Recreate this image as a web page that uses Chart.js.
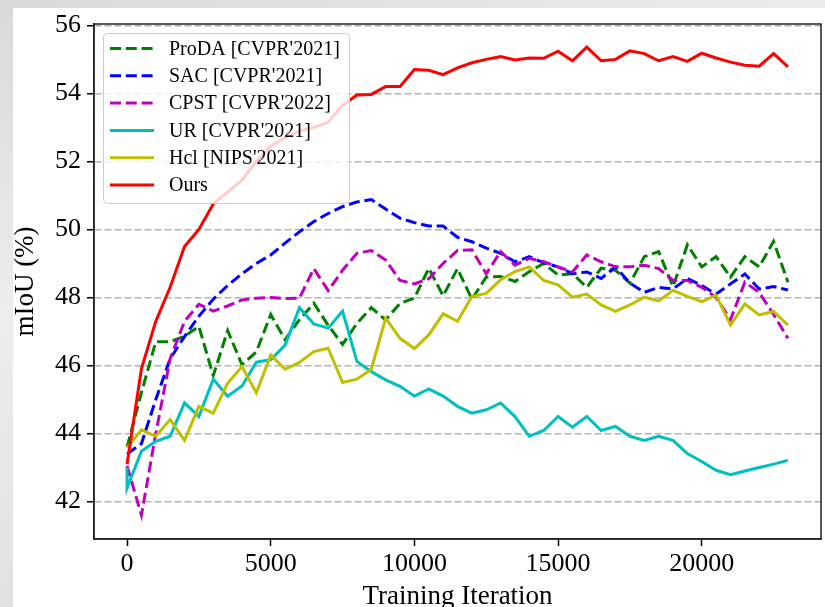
<!DOCTYPE html>
<html>
<head>
<meta charset="utf-8">
<script src="https://cdn.jsdelivr.net/npm/chart.js@4/dist/chart.umd.min.js"></script>
<style>
  html, body { margin: 0; padding: 0; }
  body {
    width: 825px; height: 607px; overflow: hidden; position: relative;
    background: linear-gradient(160deg, #d9d9d9 0%, #ededed 35%, #e0e0e0 70%, #eaeaea 100%);
  }
  #paper { position: absolute; left: 13px; top: 8px; right: 0; bottom: 0; background: #fff; }
  #chart { position: absolute; left: 0; top: 0; }
</style>
</head>
<body>
<div id="paper"></div>
<canvas id="chart" width="825" height="607"></canvas>
<script>
// --- DATA ---
const iters = [
  0, 500, 1000, 1500, 2000, 2500, 3000, 3500, 4000, 4500,
  5000, 5500, 6000, 6500, 7000, 7500, 8000, 8500, 9000, 9500,
  10000, 10500, 11000, 11500, 12000, 12500, 13000, 13500, 14000, 14500,
  15000, 15500, 16000, 16500, 17000, 17500, 18000, 18500, 19000, 19500,
  20000, 20500, 21000, 21500, 22000, 22500, 23000
];

const proda = [
  43.6, 45.2, 46.7, 46.7, 46.86, 47.15, 45.7, 47.03, 46.02, 46.4,
  47.5, 46.76, 47.35, 47.83, 47.18, 46.62, 47.24, 47.7, 47.34, 47.83,
  47.98, 48.86, 48.05, 48.85, 47.95, 48.6, 48.62, 48.47, 48.76, 49.0,
  48.66, 48.7, 48.3, 48.86, 48.8, 48.42, 49.2, 49.35, 48.32, 49.55,
  48.9, 49.2, 48.6, 49.2, 48.9, 49.65, 48.45
];

const sac = [
  43.4, 43.7, 45.0, 46.2, 46.85, 47.45, 47.95, 48.35, 48.7, 49.0,
  49.25, 49.6, 49.93, 50.23, 50.47, 50.67, 50.81, 50.88, 50.6, 50.33,
  50.2, 50.1, 50.1, 49.77, 49.64, 49.45, 49.3, 49.05, 49.2, 49.02,
  48.9, 48.7, 48.75, 48.56, 48.9, 48.42, 48.15, 48.3, 48.25, 48.56,
  48.35, 48.1, 48.4, 48.69, 48.25, 48.32, 48.22
];

const cpst = [
  43.05, 41.6, 44.0, 46.2, 47.3, 47.8, 47.6, 47.75, 47.93, 47.98,
  48.0, 47.97, 47.98, 48.85, 48.2, 48.8, 49.3, 49.38, 49.1, 48.5,
  48.4, 48.55, 49.0, 49.38, 49.4, 48.7, 49.35, 48.95, 49.15, 49.05,
  48.9, 48.75, 49.25, 49.05, 48.9, 48.9, 48.95, 48.85, 48.5, 48.5,
  48.3, 48.0, 47.35, 48.45, 48.15, 47.5, 46.8
];

// UR has an extra reading at iteration 0 before dropping
const urFirst = 43.0;
const ur = [
  42.4, 43.48, 43.77, 43.92, 44.9, 44.5, 45.6, 45.1, 45.4, 46.1,
  46.17, 46.6, 47.7, 47.22, 47.1, 47.6, 46.12, 45.82, 45.58, 45.39,
  45.1, 45.31, 45.1, 44.8, 44.6, 44.7, 44.9, 44.5, 43.92, 44.09,
  44.5, 44.19, 44.5, 44.09, 44.21, 43.92, 43.8, 43.92, 43.8, 43.41,
  43.18, 42.92, 42.79, 42.9, 43.0, 43.1, 43.21
];

const hcl = [
  43.58, 44.11, 43.92, 44.41, 43.8, 44.8, 44.6, 45.48, 45.97, 45.2,
  46.31, 45.89, 46.09, 46.41, 46.51, 45.5, 45.6, 45.89, 47.39, 46.8,
  46.5, 46.9, 47.52, 47.3, 48.03, 48.12, 48.52, 48.76, 48.9, 48.5,
  48.37, 48.01, 48.1, 47.78, 47.59, 47.78, 48.01, 47.9, 48.21, 48.03,
  47.88, 48.07, 47.19, 47.81, 47.49, 47.59, 47.19
];

const ours = [
  43.1, 45.9, 47.3, 48.3, 49.5, 50.0, 50.75, 51.1, 51.45, 52.0,
  52.45, 52.7, 52.9, 53.0, 53.15, 53.65, 53.95, 53.97, 54.2, 54.2,
  54.7, 54.68, 54.55, 54.75, 54.9, 55.0, 55.08, 54.98, 55.04, 55.03,
  55.24, 54.96, 55.36, 54.96, 55.0, 55.25, 55.17, 54.96, 55.08, 54.94,
  55.18, 55.04, 54.92, 54.83, 54.8, 55.17, 54.78
];

const xTicks = [0, 5000, 10000, 15000, 20000];
const yTicks = [42, 44, 46, 48, 50, 52, 54, 56];

// --- HELPERS ---
const pts = vals => iters.map((x, i) => ({ x: x, y: vals[i] }));
const dash = [11, 4.8];
const serif = "'Liberation Serif', 'Times New Roman', serif";

function series(label, vals, color, dashed, order) {
  return {
    label: label,
    data: vals,
    borderColor: color,
    backgroundColor: color,
    borderWidth: 3,
    borderDash: dashed ? dash : [],
    pointRadius: 0,
    tension: 0,
    fill: false,
    order: order
  };
}

// legend box inside the plot + full frame like matplotlib spines
const insideLegend = {
  id: 'insideLegend',
  afterDatasetsDraw(chart) {
    const { ctx, chartArea: a } = chart;
    ctx.save();
    const bx = 103.5, by = 33.5, bw = 246, bh = 170, r = 4;
    ctx.beginPath();
    ctx.moveTo(bx + r, by);
    ctx.arcTo(bx + bw, by, bx + bw, by + bh, r);
    ctx.arcTo(bx + bw, by + bh, bx, by + bh, r);
    ctx.arcTo(bx, by + bh, bx, by, r);
    ctx.arcTo(bx, by, bx + bw, by, r);
    ctx.closePath();
    ctx.fillStyle = 'rgba(255,255,255,0.8)';
    ctx.fill();
    ctx.strokeStyle = '#cccccc';
    ctx.lineWidth = 1;
    ctx.stroke();

    ctx.font = '20px ' + serif;
    ctx.textBaseline = 'middle';
    ctx.fillStyle = '#000';
    chart.data.datasets.forEach((ds, i) => {
      const y = 48.5 + i * 27.3;
      ctx.setLineDash(ds.borderDash);
      ctx.strokeStyle = ds.borderColor;
      ctx.lineWidth = 3;
      ctx.beginPath();
      ctx.moveTo(110, y);
      ctx.lineTo(154, y);
      ctx.stroke();
      ctx.setLineDash([]);
      ctx.fillText(ds.label, 169, y + 1);
    });

    ctx.strokeStyle = '#222';
    ctx.lineWidth = 1.5;
    ctx.strokeRect(a.left, a.top, a.right - a.left, a.bottom - a.top);
    ctx.restore();
  }
};

// --- CHART ---
Chart.defaults.font.family = serif;
Chart.defaults.color = '#000';

const urData = [{ x: 0, y: urFirst }].concat(pts(ur));

new Chart(document.getElementById('chart'), {
  type: 'line',
  data: {
    datasets: [
      series('ProDA [CVPR\'2021]', pts(proda), '#008000', true, 6),
      series('SAC [CVPR\'2021]', pts(sac), '#0000ff', true, 5),
      series('CPST [CVPR\'2022]', pts(cpst), '#bf00bf', true, 4),
      series('UR [CVPR\'2021]', urData, '#00bfbf', false, 3),
      series('Hcl [NIPS\'2021]', pts(hcl), '#bfbf00', false, 2),
      series('Ours', pts(ours), '#ff0000', false, 1)
    ]
  },
  options: {
    responsive: false,
    animation: false,
    devicePixelRatio: 1,
    layout: { padding: { top: 24, right: 4, left: 0, bottom: 0 } },
    plugins: { legend: { display: false }, tooltip: { enabled: false } },
    scales: {
      x: {
        type: 'linear',
        min: -1150,
        max: 24150,
        afterBuildTicks: s => { s.ticks = xTicks.map(v => ({ value: v })); },
        afterFit: s => { s.height = 68; },
        ticks: { font: { size: 26 }, color: '#000', padding: 3, maxRotation: 0, callback: v => String(v) },
        grid: { drawOnChartArea: false, drawTicks: true, tickLength: 7, tickColor: '#000', tickWidth: 1.5 },
        border: { display: true, color: '#222', width: 1.5 },
        title: {
          display: true, text: 'Training Iteration', color: '#000',
          font: { size: 27, lineHeight: 0.76 }, padding: { top: 0, bottom: 0 }
        }
      },
      y: {
        min: 40.9,
        max: 56.04,
        afterBuildTicks: s => { s.ticks = yTicks.map(v => ({ value: v })); },
        afterFit: s => { s.width = 94; },
        ticks: { font: { size: 26 }, color: '#000', padding: 6, callback: v => String(v) },
        grid: {
          color: '#b3b3b3', lineWidth: 1.5, drawTicks: true, tickLength: 7,
          tickColor: '#000', tickWidth: 1.5, tickBorderDash: []
        },
        border: { display: true, color: '#222', width: 1.5, dash: [7, 3] },
        title: {
          display: true, text: 'mIoU (%)', color: '#000',
          font: { size: 27, lineHeight: 1 }, padding: { top: 12, bottom: 0 }
        }
      }
    }
  },
  plugins: [insideLegend]
});
</script>
</body>
</html>
